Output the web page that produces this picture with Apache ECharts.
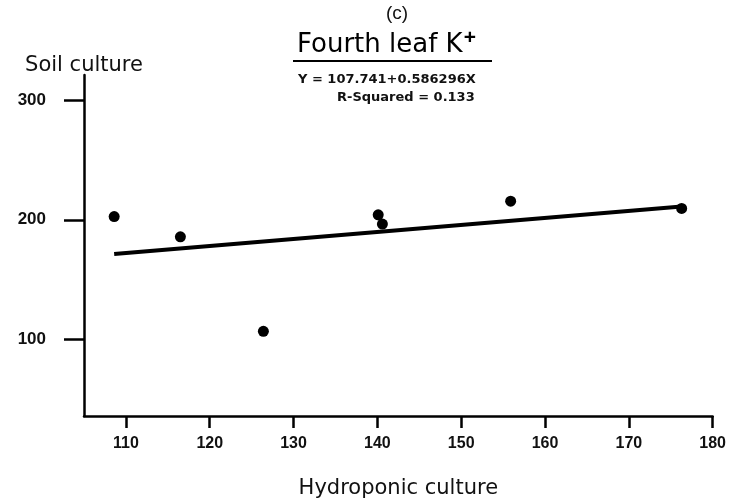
<!DOCTYPE html>
<html>
<head>
<meta charset="utf-8">
<script src="https://cdn.jsdelivr.net/npm/echarts@6/dist/echarts.min.js"></script>
<style>
html,body{margin:0;padding:0;background:#fff;}
#chart{width:729px;height:504px;}
</style>
</head>
<body>
<div id="chart"></div>
<script>
// Data
var hydroX = [108.6, 116.5, 126.4, 140.1, 140.6, 155.9, 176.3];
var soilY  = [202.7, 185.8, 106.8, 204.1, 196.4, 215.5, 209.5];
var fitX = [108.6, 176.3];
var fitY = [171.4, 211.1];
var xTicks = [110, 120, 130, 140, 150, 160, 170, 180];
var yTicks = [100, 200, 300];

var FONT = '"Liberation Sans", Arial, sans-serif';
var WIDE = '"DejaVu Sans", sans-serif';

var points = hydroX.map(function (x, i) { return [x, soilY[i]]; });
var fitLine = fitX.map(function (x, i) { return [x, fitY[i]]; });

var chart = echarts.init(document.getElementById('chart'), null, {renderer: 'canvas'});
chart.setOption({
  backgroundColor: '#fff',
  animation: false,
  grid: {left: 84, right: 16, top: 75, bottom: 80, containLabel: false},
  xAxis: {
    type: 'value', min: 105, max: 180,
    name: 'Hydroponic culture', nameLocation: 'middle', nameGap: 62,
    nameTextStyle: {fontFamily: WIDE, fontSize: 21, color: '#111'},
    axisLine: {show: true, lineStyle: {color: '#000', width: 2.5}},
    axisTick: {show: true, customValues: xTicks, length: 12, lineStyle: {color: '#000', width: 2.5}},
    axisLabel: {customValues: xTicks, margin: 20, fontFamily: FONT, fontSize: 16, fontWeight: 'bold', color: '#111'},
    splitLine: {show: false}
  },
  yAxis: {
    type: 'value', min: 36, max: 321,
    name: 'Soil culture', nameLocation: 'end', nameGap: -1,
    nameTextStyle: {fontFamily: WIDE, fontSize: 21, color: '#111', align: 'center', verticalAlign: 'bottom'},
    axisLine: {show: true, lineStyle: {color: '#000', width: 2.5}},
    axisTick: {show: true, customValues: yTicks, length: 20, lineStyle: {color: '#000', width: 2.5}},
    axisLabel: {customValues: yTicks, margin: 38, fontFamily: FONT, fontSize: 17, fontWeight: 'bold', color: '#111'},
    splitLine: {show: false}
  },
  series: [
    {
      type: 'line', data: fitLine, symbol: 'none',
      lineStyle: {color: '#000', width: 4}, z: 2
    },
    {
      type: 'scatter', data: points, symbol: 'circle', symbolSize: 11,
      itemStyle: {color: '#000', opacity: 1}, z: 3
    }
  ],
  graphic: [
    {type: 'text', top: 4, left: 386, style: {text: '(c)', font: '19px ' + FONT, fill: '#111'}},
    {type: 'text', top: 28, left: 297,
      style: {
        text: '{m|Fourth leaf K}{s|+}',
        rich: {
          m: {fontFamily: WIDE, fontSize: 26, color: '#111'},
          s: {fontFamily: FONT, fontSize: 21, fontWeight: 'bold', color: '#111', verticalAlign: 'top', padding: [0, 0, 14, 1]}
        }
      }
    },
    {type: 'line', shape: {x1: 293, y1: 61, x2: 492, y2: 61}, style: {stroke: '#000', lineWidth: 2}},
    {type: 'text', top: 73, left: 298, style: {text: 'Y = 107.741+0.586296X', font: 'bold 13px ' + WIDE, fill: '#111'}},
    {type: 'text', top: 91, left: 337, style: {text: 'R-Squared = 0.133', font: 'bold 13px ' + WIDE, fill: '#111'}}
  ]
});
</script>
</body>
</html>
